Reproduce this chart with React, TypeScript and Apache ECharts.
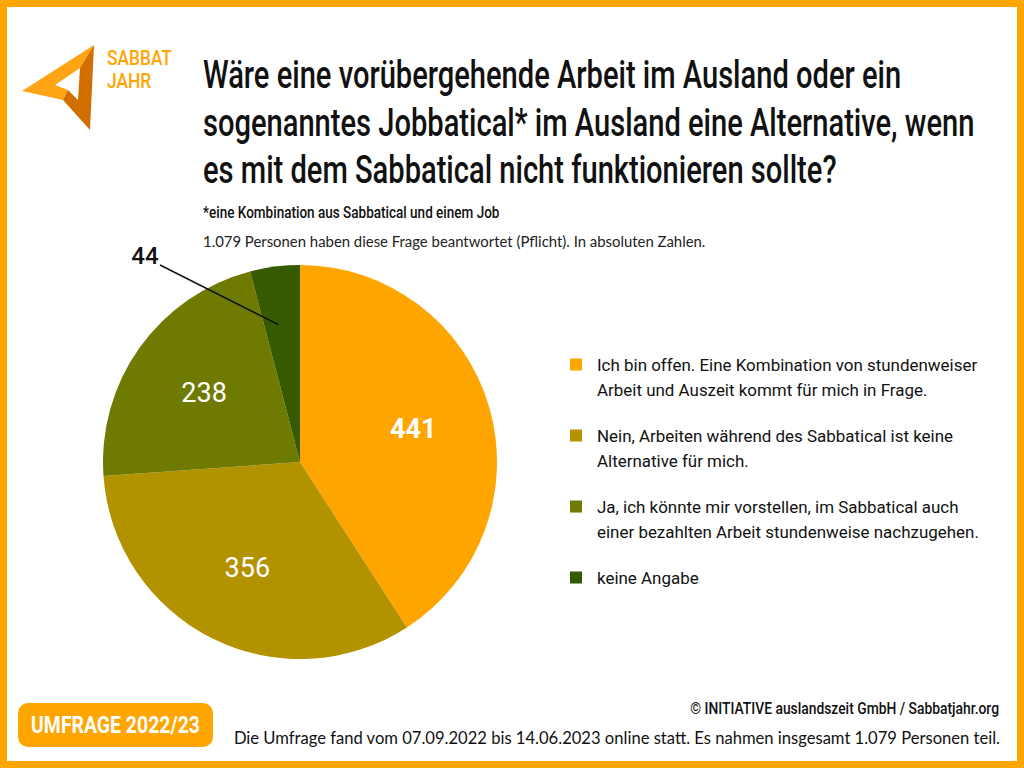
import React, { useEffect, useRef } from "react";
import * as echarts from "echarts";

const categories = [
  "Ich bin offen. Eine Kombination von stundenweiser Arbeit und Auszeit kommt für mich in Frage.",
  "Nein, Arbeiten während des Sabbatical ist keine Alternative für mich.",
  "Ja, ich könnte mir vorstellen, im Sabbatical auch einer bezahlten Arbeit stundenweise nachzugehen.",
  "keine Angabe",
];
const legendLines = [
  ["Ich bin offen. Eine Kombination von stundenweiser", "Arbeit und Auszeit kommt für mich in Frage."],
  ["Nein, Arbeiten während des Sabbatical ist keine", "Alternative für mich."],
  ["Ja, ich könnte mir vorstellen, im Sabbatical auch", "einer bezahlten Arbeit stundenweise nachzugehen."],
  ["keine Angabe"],
];
const values = [441, 356, 238, 44];
const colors = ["#FFA500", "#B39200", "#6E7B00", "#355A00"];

const titleLines = [
  "Wäre eine vorübergehende Arbeit im Ausland oder ein",
  "sogenanntes Jobbatical* im Ausland eine Alternative, wenn",
  "es mit dem Sabbatical nicht funktionieren sollte?",
];
const noteText = "*eine Kombination aus Sabbatical und einem Job";
const infoText = "1.079 Personen haben diese Frage beantwortet (Pflicht). In absoluten Zahlen.";
const copyrightText = "© INITIATIVE auslandszeit GmbH / Sabbatjahr.org";
const footerText =
  "Die Umfrage fand vom 07.09.2022 bis 14.06.2023 online statt. Es nahmen insgesamt 1.079 Personen teil.";
const badgeText = "UMFRAGE 2022/23";
const logoLines = ["SABBAT", "JAHR"];

const COND = "Roboto, 'Noto Sans', sans-serif";
const BODY = "Lato, 'Open Sans', sans-serif";
const ORANGE = "#FFA500";

let ctx: CanvasRenderingContext2D | null = null;
function measure(text: string, font: string) {
  if (!ctx) ctx = document.createElement("canvas").getContext("2d");
  ctx!.font = font;
  return ctx!.measureText(text).width;
}

export default function App() {
  const ref = useRef<HTMLDivElement>(null);
  useEffect(() => {
    document.body.style.margin = "0";
    const chart = echarts.init(ref.current!, null, { renderer: "svg" });

    const condText = (
      text: string, x: number, y: number, font: string, targetW: number,
      fill: string, align: "left" | "right" | "center" = "left", extra: any = {}
    ) => {
      const lines = text.split("\n");
      const w = Math.max(...lines.map((l) => measure(l, font)));
      return {
        type: "text",
        x, y,
        scaleX: targetW / w,
        silent: true,
        style: { x: 0, y: 0, text, font, fill, align, verticalAlign: "middle", ...extra },
      };
    };

    const lf = 19 * 382 / measure(legendLines[2][1], `19px ${COND}`);
    const rich: any = {
      t: { fontFamily: COND, fontSize: lf, lineHeight: 25, color: "#111" },
      g: { width: 15 },
      i: { width: 27 },
    };
    colors.forEach((c, k) => {
      rich["s" + k] = { width: 12, height: 12, backgroundColor: c };
    });

    const infoSize = 13 * 503 / measure(infoText, `13px ${BODY}`);
    const footSize = 15 * 767 / measure(footerText, `15px ${BODY}`);

    const option: any = {
      animation: false,
      backgroundColor: "#ffffff",
      legend: {
        orient: "vertical",
        left: 560,
        top: 351,
        itemGap: 29,
        itemWidth: 0,
        itemHeight: 0,
        selectedMode: false,
        data: categories,
        formatter: (name: string) => {
          const k = categories.indexOf(name);
          const lines = legendLines[k];
          let s = `{s${k}|}{g|}{t|${lines[0]}}`;
          for (let j = 1; j < lines.length; j++) s += `\n{i|}{t|${lines[j]}}`;
          return s;
        },
        textStyle: { rich },
      },
      series: [
        {
          type: "pie",
          radius: [0, 197],
          center: [300, 462],
          startAngle: 90,
          silent: true,
          z: 2,
          label: { show: false },
          labelLine: { show: false },
          data: categories.map((n, k) => ({
            name: n,
            value: values[k],
            itemStyle: { color: colors[k] },
          })),
        },
        {
          type: "pie",
          radius: [33, 197],
          center: [300, 462],
          startAngle: 90,
          silent: true,
          z: 4,
          itemStyle: { color: "rgba(0,0,0,0)", borderWidth: 0 },
          label: {
            position: "inside",
            formatter: "{c}",
            fontFamily: COND,
            fontSize: 27,
            color: "#fff",
          },
          labelLine: { show: false },
          labelLayout: (p: any) => {
            if (p.dataIndex !== 3) return {};
            const r = p.rect;
            return {
              x: 145,
              y: 256,
              align: "center",
              verticalAlign: "middle",
              labelLinePoints: [
                [160, 265],
                [160, 265],
                [r.x + r.width * 0.56, r.y + r.height * 0.36],
              ],
            };
          },
          data: categories.map((n, k) => ({
            name: n,
            value: values[k],
            label:
              k === 3
                ? { show: true, position: "outside", color: "#111", fontSize: 24, fontWeight: 500 }
                : { show: true, fontWeight: k === 0 ? "bold" : "normal" },
            labelLine:
              k === 3
                ? { show: true, length: 15, length2: 40, lineStyle: { color: "#111", width: 1.5 } }
                : { show: false },
          })),
        },
      ],
      graphic: [
        {
          type: "rect",
          shape: { x: 3.5, y: 3.5, width: 1017, height: 761 },
          style: { fill: "none", stroke: ORANGE, lineWidth: 7 },
          silent: true,
        },
        {
          type: "polygon",
          shape: { points: [[22, 91], [94, 45], [80, 68], [55, 85], [68, 90], [63, 100]] },
          style: { fill: "#FFA515" },
        },
        {
          type: "polygon",
          shape: { points: [[94, 45], [90, 130], [63, 100], [68, 90], [78, 100], [80, 68]] },
          style: { fill: "#D06F00" },
        },
        condText(logoLines.join("\n"), 107, 69, `500 21px ${COND}`, 65, ORANGE, "left", { lineHeight: 23 }),
        condText(titleLines.join("\n"), 203, 123, `500 38px ${COND}`, 772, "#111", "left", { lineHeight: 47.5 }),
        condText(noteText, 203, 213, `500 16px ${COND}`, 297, "#111"),
        {
          type: "text",
          silent: true,
          style: { x: 203, y: 241, text: infoText, fill: "#222", font: `${infoSize}px ${BODY}`, verticalAlign: "middle" },
        },
        condText(copyrightText, 999, 709, `500 17px ${COND}`, 309, "#111", "right"),
        {
          type: "text",
          silent: true,
          style: { x: 1000, y: 738, text: footerText, fill: "#111", font: `${footSize}px ${BODY}`, align: "right", verticalAlign: "middle" },
        },
        {
          type: "rect",
          silent: true,
          shape: { x: 18, y: 703, width: 195, height: 44, r: 10 },
          style: { fill: ORANGE },
        },
        condText(badgeText, 115.5, 725, `bold 23px ${COND}`, 169, "#fff", "center"),
      ],
    };
    chart.setOption(option);
    return () => chart.dispose();
  }, []);
  return <div ref={ref} style={{ position: "absolute", left: 0, top: 0, width: 1024, height: 768 }} />;
}
